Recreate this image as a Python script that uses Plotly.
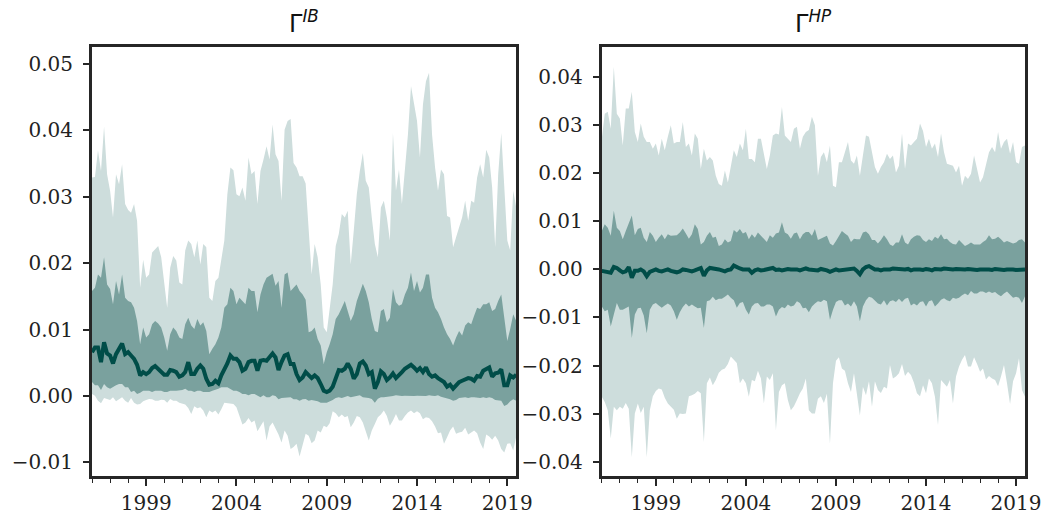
import numpy as np
import pandas as pd
import plotly.graph_objects as go

# Bi-monthly observation dates
dates = pd.date_range("1996-01-01", periods=142, freq="2MS")

# Values below are in units of 1e-3
ib_outer_hi = [32.9, 33.0, 37.0, 33.9, 40.6, 33.4, 30.9, 26.9, 33.4, 31.9,
               34.9, 28.9, 28.0, 27.6, 28.9, 26.4, 16.3, 20.5, 17.8, 18.3,
               21.6, 22.1, 22.6, 20.9, 17.1, 13.3, 19.3, 21.1, 20.4, 17.1,
               16.8, 21.9, 23.4, 22.9, 20.9, 23.4, 19.8, 22.9, 22.4, 14.8,
               14.3, 17.3, 17.8, 20.4, 23.4, 30.4, 34.4, 34.0, 30.4, 30.1,
               31.4, 29.4, 35.9, 33.4, 33.9, 28.9, 33.9, 35.6, 37.6, 35.6,
               40.9, 36.4, 35.4, 29.4, 40.1, 41.4, 41.7, 35.1, 34.4, 33.1,
               33.1, 32.0, 24.9, 18.3, 22.9, 20.9, 16.8, 10.3, 9.6, 13.3,
               16.8, 22.6, 24.4, 27.4, 26.9, 27.9, 19.8, 24.9, 30.4, 33.9,
               36.6, 32.4, 31.4, 26.9, 22.9, 20.9, 28.4, 29.4, 26.9, 23.4,
               39.6, 30.9, 34.1, 28.9, 33.9, 39.4, 46.7, 43.9, 41.4, 35.9,
               43.9, 47.4, 48.7, 39.4, 34.4, 30.9, 34.1, 33.4, 27.1, 26.9,
               22.4, 23.9, 25.4, 26.9, 29.4, 26.4, 29.4, 29.1, 32.9, 34.9,
               32.9, 37.1, 35.9, 31.4, 22.4, 33.4, 39.6, 30.4, 23.4, 21.9,
               30.9, 28.4]
ib_inner_hi = [15.8, 16.3, 18.3, 17.8, 20.9, 16.8, 16.1, 13.8, 17.3, 15.3,
               18.3, 14.8, 14.3, 14.1, 13.3, 11.3, 7.8, 10.3, 8.8, 9.3,
               10.8, 11.3, 10.9, 10.3, 8.8, 6.8, 9.3, 10.3, 9.8, 8.8,
               8.6, 10.8, 11.8, 10.6, 10.1, 11.6, 10.6, 11.1, 9.8, 6.3,
               7.1, 7.8, 8.8, 10.3, 13.3, 13.8, 16.3, 15.8, 13.8, 14.8,
               14.3, 13.8, 16.3, 15.8, 15.8, 12.6, 15.3, 16.8, 17.8, 18.1,
               18.4, 16.6, 17.3, 13.3, 18.3, 18.6, 15.8, 16.3, 16.8, 15.8,
               15.3, 14.5, 9.6, 9.8, 10.3, 8.6, 7.6, 4.8, 6.6, 7.8,
               9.3, 11.6, 12.3, 13.3, 14.3, 12.8, 11.3, 12.3, 14.3, 15.6,
               16.9, 15.8, 14.1, 11.6, 9.8, 9.6, 12.8, 13.1, 11.1, 11.8,
               16.1, 14.1, 13.6, 13.8, 15.3, 16.3, 18.6, 15.8, 17.3, 15.6,
               16.3, 18.3, 18.3, 14.8, 13.3, 12.6, 11.6, 10.3, 9.3, 8.6,
               7.6, 8.8, 9.8, 9.1, 10.6, 11.1, 10.8, 12.1, 13.3, 13.1,
               13.8, 13.8, 14.1, 12.8, 13.1, 14.3, 15.3, 11.8, 8.3, 10.1,
               12.3, 11.3]
ib_median = [6.6, 7.3, 7.3, 5.1, 8.1, 6.4, 6.1, 4.9, 6.3, 7.2,
             7.9, 6.3, 6.6, 6.1, 5.6, 4.7, 3.1, 3.6, 3.3, 3.6,
             4.2, 4.5, 4.1, 3.6, 3.2, 3.2, 3.9, 3.8, 3.6, 2.9,
             3.1, 3.6, 5.1, 3.3, 3.3, 4.1, 4.6, 4.1, 2.6, 1.7,
             1.8, 2.3, 1.9, 3.1, 3.9, 4.9, 6.1, 5.6, 5.6, 5.1,
             3.8, 4.1, 5.1, 5.3, 5.3, 3.8, 5.3, 5.4, 5.3, 5.8,
             6.4, 5.8, 3.9, 5.1, 6.1, 6.3, 4.8, 4.8, 3.3, 2.4,
             2.8, 3.6, 3.2, 2.7, 3.1, 2.7, 1.8, 0.8, 0.6, 0.8,
             1.4, 2.8, 3.9, 3.8, 4.1, 4.9, 4.1, 2.6, 3.3, 4.9,
             5.2, 4.6, 3.3, 3.6, 1.1, 2.1, 3.7, 3.3, 2.4, 2.8,
             3.4, 2.7, 3.1, 3.6, 4.1, 4.4, 4.7, 4.3, 3.8, 4.2,
             3.6, 4.3, 3.3, 2.9, 3.1, 2.7, 2.3, 2.1, 1.4, 1.7,
             1.1, 1.7, 2.1, 2.3, 2.5, 2.7, 2.6, 2.3, 3.0, 2.9,
             3.8, 4.1, 4.3, 2.9, 3.4, 3.5, 4.0, 1.6, 1.6, 3.1,
             2.8, 3.2]
ib_inner_lo = [2.1, 1.6, 1.6, 0.9, 1.8, 1.3, 1.1, 1.4, 1.6, 1.8,
               1.8, 1.3, 1.3, 0.6, 0.8, 0.3, 0.5, 0.8, 0.8, 0.8,
               0.6, 0.8, 0.8, 0.8, 0.6, 0.6, 0.8, 0.8, 0.8, 0.8,
               0.9, 1.1, 0.8, 0.8, 0.6, 0.8, 0.8, 0.6, 0.6, 0.6,
               0.8, 1.0, 1.1, 1.3, 1.3, 1.3, 1.1, 0.8, 0.8, 0.6,
               0.3, 0.3, 0.1, 0.3, 0.3, 0.1, -0.2, 0.1, -0.2, -0.2,
               0.1, 0.0, -0.5, -0.3, -0.2, -0.2, -0.2, -0.5, -0.5, -0.7,
               -0.5, -0.45, -0.7, -0.6, -0.7, -0.8, -1.0, -1.0, -1.0, -0.8,
               -0.6, -0.3, -0.2, -0.3, -0.1, 0.0, -0.2, -0.2, 0.0, 0.1,
               -0.2, -0.2, -0.3, -0.45, -1.0, -0.4, -0.2, -0.2, -0.2, -0.1,
               0.0, 0.1, 0.05, 0.0, 0.05, 0.1, 0.05, 0.0, 0.05, 0.1,
               0.05, 0.0, 0.1, 0.05, 0.0, 0.1, -0.1, -0.2, -0.4, -0.5,
               -0.7, -0.6, -0.3, -0.2, -0.2, -0.3, -0.2, -0.2, -0.2, -0.3,
               -0.2, -0.3, -0.2, -0.3, -0.6, -0.7, -0.7, -1.5, -1.3, -0.8,
               -0.5, -0.7]
ib_outer_lo = [0.3, 0.05, -0.7, -1.1, -0.3, -0.45, -0.6, -0.2, -0.8, -0.45,
               -0.2, -0.7, -1.0, -0.3, -1.0, -1.3, -1.2, -0.8, -0.6, -0.45,
               -0.5, -0.7, -0.7, -0.55, -0.6, -1.0, -0.45, -0.7, -0.7, -1.0,
               -1.2, -1.3, -1.8, -2.7, -1.55, -1.85, -1.7, -2.2, -3.2, -2.2,
               -2.5, -2.2, -2.8, -2.0, -1.0, -1.0, -1.1, -1.2, -1.7, -2.8,
               -4.3, -4.0, -3.3, -4.0, -3.7, -5.3, -4.5, -3.8, -6.7, -4.6,
               -4.0, -5.0, -5.8, -7.0, -5.2, -6.0, -8.0, -7.7, -7.2, -9.1,
               -7.2, -5.7, -6.0, -7.1, -6.7, -5.2, -5.5, -4.5, -4.7, -4.1,
               -2.3, -2.6, -3.2, -2.8, -3.2, -3.0, -4.7, -4.0, -3.0, -3.2,
               -4.0, -5.4, -6.7, -5.2, -4.2, -3.2, -2.8, -2.2, -3.0, -4.5,
               -3.7, -2.7, -3.7, -3.7, -3.0, -2.5, -2.2, -2.6, -2.3, -2.6,
               -3.5, -3.2, -3.3, -3.8, -4.6, -5.6, -5.5, -7.2, -6.2, -5.2,
               -4.6, -5.7, -5.5, -5.4, -4.8, -5.8, -5.5, -5.2, -5.6, -7.0,
               -8.0, -5.8, -6.1, -6.6, -6.0, -6.7, -8.0, -8.5, -7.2, -7.1,
               -8.2, -6.1]

hp_outer_hi = [27.2, 32.4, 32.8, 29.3, 42.2, 32.4, 31.4, 25.8, 33.5, 33.5,
               37.0, 28.6, 26.5, 30.4, 27.6, 26.5, 26.5, 25.1, 26.2, 23.7,
               27.2, 24.8, 27.6, 30.0, 26.2, 26.5, 26.5, 30.7, 25.5, 26.2,
               23.7, 28.3, 27.2, 20.9, 25.1, 22.7, 23.4, 22.7, 19.5, 17.8,
               17.4, 20.6, 18.1, 21.6, 24.8, 23.4, 26.2, 24.8, 29.3, 23.0,
               23.0, 22.3, 27.2, 27.2, 24.1, 20.9, 23.7, 27.9, 28.3, 28.1,
               33.8, 27.9, 27.2, 26.5, 29.3, 29.7, 25.1, 27.6, 28.6, 29.0,
               31.8, 30.0, 19.5, 23.4, 24.4, 22.3, 25.8, 17.4, 17.1, 22.3,
               22.3, 24.4, 26.5, 22.7, 22.0, 23.7, 19.5, 23.7, 27.9, 27.6,
               24.4, 21.3, 19.9, 21.3, 22.3, 24.1, 23.0, 23.7, 20.2, 21.6,
               28.3, 20.9, 26.2, 25.8, 26.5, 27.2, 30.4, 28.8, 25.5, 27.2,
               25.1, 26.2, 23.4, 28.3, 24.4, 22.0, 21.8, 21.6, 20.2, 21.6,
               17.4, 19.5, 18.8, 19.9, 23.7, 20.9, 18.1, 19.2, 21.6, 24.4,
               25.5, 24.4, 28.6, 25.1, 26.5, 27.2, 24.1, 26.5, 22.3, 22.0,
               25.5, 25.8]
hp_inner_hi = [8.0, 9.4, 8.7, 7.0, 12.2, 8.7, 8.0, 6.3, 8.0, 9.4,
               11.2, 7.1, 8.4, 8.7, 6.6, 5.7, 7.8, 7.0, 5.7, 6.6,
               7.3, 6.3, 7.3, 7.0, 7.0, 7.1, 7.7, 8.5, 7.5, 6.4,
               7.3, 9.4, 8.4, 5.2, 5.7, 7.0, 7.8, 6.6, 6.8, 4.9,
               5.2, 6.3, 5.6, 5.9, 8.2, 7.7, 8.4, 7.5, 7.8, 6.3,
               7.3, 6.6, 7.7, 7.1, 6.3, 5.7, 7.1, 6.6, 7.5, 7.7,
               9.8, 7.7, 7.3, 6.4, 7.5, 7.7, 6.3, 7.3, 7.8, 7.8,
               7.0, 8.4, 6.1, 6.4, 6.6, 7.0, 5.4, 5.0, 5.9, 7.1,
               8.0, 7.5, 7.0, 5.7, 6.4, 6.3, 6.3, 7.7, 7.9, 7.3,
               6.1, 6.1, 5.4, 6.1, 7.1, 6.3, 5.2, 4.9, 5.6, 5.6,
               7.3, 5.6, 5.2, 6.3, 6.8, 7.1, 7.0, 6.1, 5.7, 6.3,
               5.9, 6.8, 6.4, 7.3, 6.3, 6.4, 5.7, 5.3, 5.2, 6.1,
               5.4, 4.9, 5.2, 5.6, 5.2, 5.2, 5.2, 5.7, 6.1, 7.1,
               6.3, 6.4, 6.8, 6.3, 5.6, 5.9, 5.7, 5.4, 5.6, 6.1,
               6.3, 5.6]
hp_median = [-0.3, -0.5, -0.7, -0.7, 0.5, 0.3, -0.2, -0.6, -0.4, 0.5,
             -1.7, -0.3, -0.3, 0.0, -0.4, -1.4, -0.5, -0.3, 0.0, -0.3,
             -0.4, -0.2, 0.0, -0.3, -0.4, -0.6, -0.4, 0.0, -0.1, -0.3,
             -0.4, -0.2, 0.0, 0.3, -1.3, -0.2, 0.3, 0.2, 0.3, 0.0,
             -0.2, -0.4, -0.1, 0.0, 0.8, 0.4, 0.2, 0.0, -0.1, 0.0,
             -0.7, -0.2, 0.0, -0.2, -0.1, 0.0, 0.2, 0.3, -0.1, 0.0,
             -0.2, 0.0, 0.1, 0.0, 0.1, 0.0, -0.2, 0.0, 0.2, 0.0,
             -0.1, 0.0, -0.2, 0.1, 0.0, -0.2, -0.5, -0.3, 0.0, -0.2,
             -0.1, 0.0, 0.1, 0.0, 0.2, -0.3, -1.0, 0.0, 0.5, 0.7,
             0.4, 0.0, 0.0, -0.2, 0.0, -0.1, 0.0, 0.2, 0.1, 0.0,
             -0.1, 0.0, 0.1, -0.2, 0.0, 0.1, 0.0, -0.1, 0.1, 0.0,
             -0.2, 0.1, 0.0, 0.0, 0.2, 0.1, -0.1, 0.0, 0.1, 0.0,
             -0.1, 0.0, 0.1, 0.0, 0.1, -0.1, 0.0, 0.1, 0.0, 0.0,
             -0.1, 0.1, 0.0, 0.1, -0.1, 0.0, 0.1, 0.0, -0.1, 0.0,
             0.1, 0.0]
hp_inner_lo = [-7.7, -8.7, -8.4, -11.9, -9.4, -7.0, -8.4, -8.4, -8.0, -7.7,
               -14.3, -9.4, -8.1, -8.0, -9.6, -13.3, -8.4, -7.3, -7.0, -7.5,
               -8.0, -7.5, -7.1, -7.5, -8.7, -10.5, -8.9, -7.8, -7.1, -7.7,
               -7.3, -7.7, -8.1, -8.0, -12.2, -6.6, -6.4, -5.7, -6.4, -6.1,
               -6.1, -5.7, -5.2, -5.9, -6.4, -8.0, -7.0, -6.8, -8.4, -9.4,
               -7.7, -7.1, -7.0, -7.7, -7.7, -7.3, -7.3, -7.7, -9.8, -8.4,
               -7.8, -8.1, -7.3, -7.7, -7.5, -6.6, -7.0, -8.1, -8.0, -8.9,
               -7.7, -7.1, -6.6, -6.8, -6.3, -6.6, -10.5, -8.4, -6.8, -6.4,
               -6.4, -7.5, -7.1, -7.7, -6.6, -7.7, -10.8, -7.7, -6.4, -5.7,
               -5.9, -6.4, -7.1, -7.3, -6.4, -7.5, -6.6, -6.4, -6.8, -6.1,
               -6.8, -6.1, -5.9, -7.5, -7.1, -7.5, -6.8, -6.6, -7.7, -6.6,
               -6.4, -7.7, -7.1, -6.3, -6.0, -6.4, -6.6, -5.9, -6.1, -5.9,
               -5.4, -5.0, -5.4, -4.5, -5.0, -5.0, -4.6, -4.6, -4.9, -4.6,
               -4.9, -4.7, -5.2, -5.6, -5.0, -4.6, -5.3, -5.9, -5.7, -5.9,
               -7.0, -5.6]
hp_outer_lo = [-26.5, -27.6, -29.3, -35.2, -28.6, -29.3, -28.6, -29.0, -27.8, -29.0,
               -39.1, -30.0, -27.9, -29.9, -28.6, -39.1, -29.3, -26.4, -25.3, -24.8,
               -25.0, -26.7, -27.9, -28.5, -29.2, -31.1, -30.0, -30.1, -30.0, -26.4,
               -26.2, -25.9, -25.3, -25.8, -36.0, -23.7, -22.5, -24.1, -23.0, -21.5,
               -20.9, -20.6, -19.7, -18.1, -18.8, -19.5, -23.7, -22.7, -23.7, -26.5,
               -23.0, -23.3, -21.1, -22.7, -27.9, -22.3, -23.0, -21.6, -33.5, -25.5,
               -24.1, -23.7, -27.2, -29.3, -28.5, -27.2, -25.8, -24.8, -22.7, -29.3,
               -30.0, -30.0, -26.9, -26.4, -27.8, -25.9, -36.3, -23.7, -19.0, -18.3,
               -20.6, -21.1, -23.7, -25.5, -21.6, -25.8, -30.4, -24.4, -26.2, -23.3,
               -28.6, -23.3, -25.1, -25.7, -24.4, -24.8, -19.9, -22.7, -22.3, -21.6,
               -19.7, -22.2, -21.3, -22.0, -23.6, -25.8, -26.4, -24.1, -25.8, -22.7,
               -23.7, -26.5, -32.4, -23.0, -23.6, -24.4, -23.0, -27.9, -22.3, -20.2,
               -18.8, -17.8, -20.2, -20.2, -18.3, -19.7, -21.3, -20.6, -22.9, -22.2,
               -22.7, -23.0, -24.3, -22.3, -19.9, -23.7, -28.0, -23.3, -21.6, -18.5,
               -25.1, -26.5]

UNIT = 1e-3
LIGHT = "rgb(205,221,220)"
DARK = "rgb(122,161,158)"
LINE = "rgb(0,77,72)"
AXC = "#262626"

fig = go.Figure()
xs = list(dates)
xpoly = xs + xs[::-1]


def add_panel(xa, ya, olo, ilo, med, ihi, ohi):
    olo, ilo, med, ihi, ohi = (np.array(a) * UNIT for a in (olo, ilo, med, ihi, ohi))
    fig.add_trace(go.Scatter(x=xpoly, y=np.r_[ohi, olo[::-1]], fill="toself",
                             fillcolor=LIGHT, line=dict(width=0), mode="lines",
                             xaxis=xa, yaxis=ya, hoverinfo="skip", showlegend=False))
    fig.add_trace(go.Scatter(x=xpoly, y=np.r_[ihi, ilo[::-1]], fill="toself",
                             fillcolor=DARK, line=dict(width=0), mode="lines",
                             xaxis=xa, yaxis=ya, hoverinfo="skip", showlegend=False))
    fig.add_trace(go.Scatter(x=xs, y=med, mode="lines",
                             line=dict(color=LINE, width=4),
                             xaxis=xa, yaxis=ya, showlegend=False))


add_panel("x", "y", ib_outer_lo, ib_inner_lo, ib_median, ib_inner_hi, ib_outer_hi)
add_panel("x2", "y2", hp_outer_lo, hp_inner_lo, hp_median, hp_inner_hi, hp_outer_hi)

tickfont = dict(family="DejaVu Serif", size=20, color="#222222")
xcommon = dict(type="date", range=["1996-01-01", "2019-07-01"],
               tick0="1999-01-01", dtick="M60", tickformat="%Y",
               ticks="outside", ticklen=7, tickwidth=1.5, tickcolor=AXC,
               minor=dict(dtick="M12", tick0="1996-01-01", ticks="outside",
                          ticklen=4, tickwidth=1.2, tickcolor=AXC),
               showline=True, mirror=True, linewidth=3, linecolor=AXC,
               showgrid=False, zeroline=False, tickfont=tickfont,
               automargin=False)
ycommon = dict(dtick=0.01, tickformat=".2f", ticks="outside", ticklen=6,
               tickwidth=1.5, tickcolor=AXC, showline=True, mirror=True,
               linewidth=3, linecolor=AXC, showgrid=False, zeroline=False,
               tickfont=tickfont, ticklabelstandoff=6, automargin=False)

fig.update_layout(
    width=1046, height=518,
    margin=dict(l=92, r=21, t=47, b=42, autoexpand=False),
    paper_bgcolor="white", plot_bgcolor="white",
    xaxis=dict(domain=[0, 0.4547], anchor="y", **xcommon),
    yaxis=dict(range=[-0.01205, 0.05256], anchor="x", tick0=0, **ycommon),
    xaxis2=dict(domain=[0.5464, 1], anchor="y2", **xcommon),
    yaxis2=dict(range=[-0.0430, 0.0463], anchor="x2", tick0=0, **ycommon),
    annotations=[
        dict(text="Γ<sup><i>IB</i></sup>", x=0.4547 / 2, y=1, xref="paper",
             yref="paper", xanchor="center", yanchor="bottom", yshift=7,
             showarrow=False, font=dict(family="DejaVu Sans", size=24, color="#111111")),
        dict(text="Γ<sup><i>HP</i></sup>", x=(0.5464 + 1) / 2, y=1, xref="paper",
             yref="paper", xanchor="center", yanchor="bottom", yshift=7,
             showarrow=False, font=dict(family="DejaVu Sans", size=24, color="#111111")),
    ],
)

fig.write_html("out.html", config={"displayModeBar": False},
               post_script="document.body.style.margin='0px';document.body.style.overflow='hidden';")
